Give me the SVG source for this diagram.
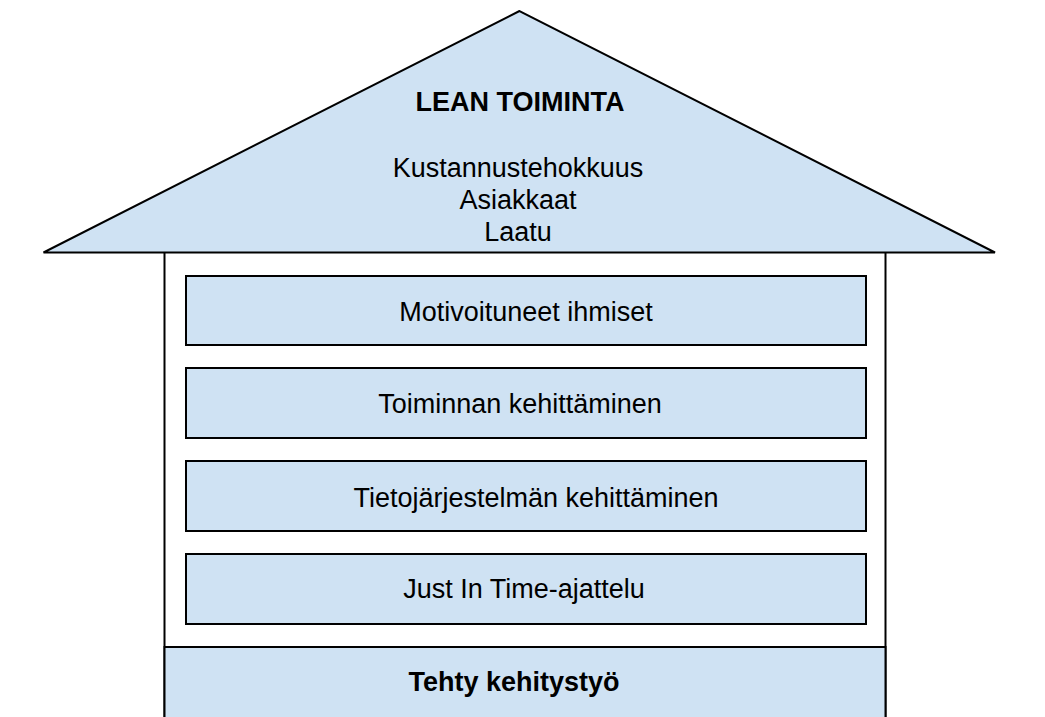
<svg xmlns="http://www.w3.org/2000/svg" width="1045" height="717" viewBox="0 0 1045 717">
<style>
.shape{fill:#cfe2f3;stroke:#000;stroke-width:2;stroke-linejoin:miter}
.wall{fill:#fff;stroke:#000;stroke-width:2}
.t{font-family:"Liberation Sans",Arial,sans-serif;font-size:27px;fill:#000;text-anchor:middle}
.b{font-weight:bold}
</style>
<rect width="1045" height="717" fill="#fff"/>
<g id="walls">
<rect class="wall" x="164.5" y="252" width="721" height="480"/>
</g>
<g id="roof">
<polygon class="shape" points="519.5,11 43.5,252.5 995,252.5"/>
<text class="t b" x="520" y="111">LEAN TOIMINTA</text>
<text class="t" x="518" y="177">Kustannustehokkuus</text>
<text class="t" x="518" y="209">Asiakkaat</text>
<text class="t" x="518" y="241">Laatu</text>
</g>
<g id="box1">
<rect class="shape" x="186" y="276" width="680" height="69"/>
<text class="t" x="526" y="321">Motivoituneet ihmiset</text>
</g>
<g id="box2">
<rect class="shape" x="186" y="368" width="680" height="70"/>
<text class="t" x="520" y="413">Toiminnan kehittäminen</text>
</g>
<g id="box3">
<rect class="shape" x="186" y="461" width="680" height="70"/>
<text class="t" x="536" y="507">Tietojärjestelmän kehittäminen</text>
</g>
<g id="box4">
<rect class="shape" x="186" y="554" width="680" height="70"/>
<text class="t" x="524" y="598">Just In Time-ajattelu</text>
</g>
<g id="base">
<rect class="shape" x="164.5" y="647" width="721" height="90"/>
<text class="t b" x="514" y="691">Tehty kehitystyö</text>
</g>
<g id="connectors"></g>
</svg>
